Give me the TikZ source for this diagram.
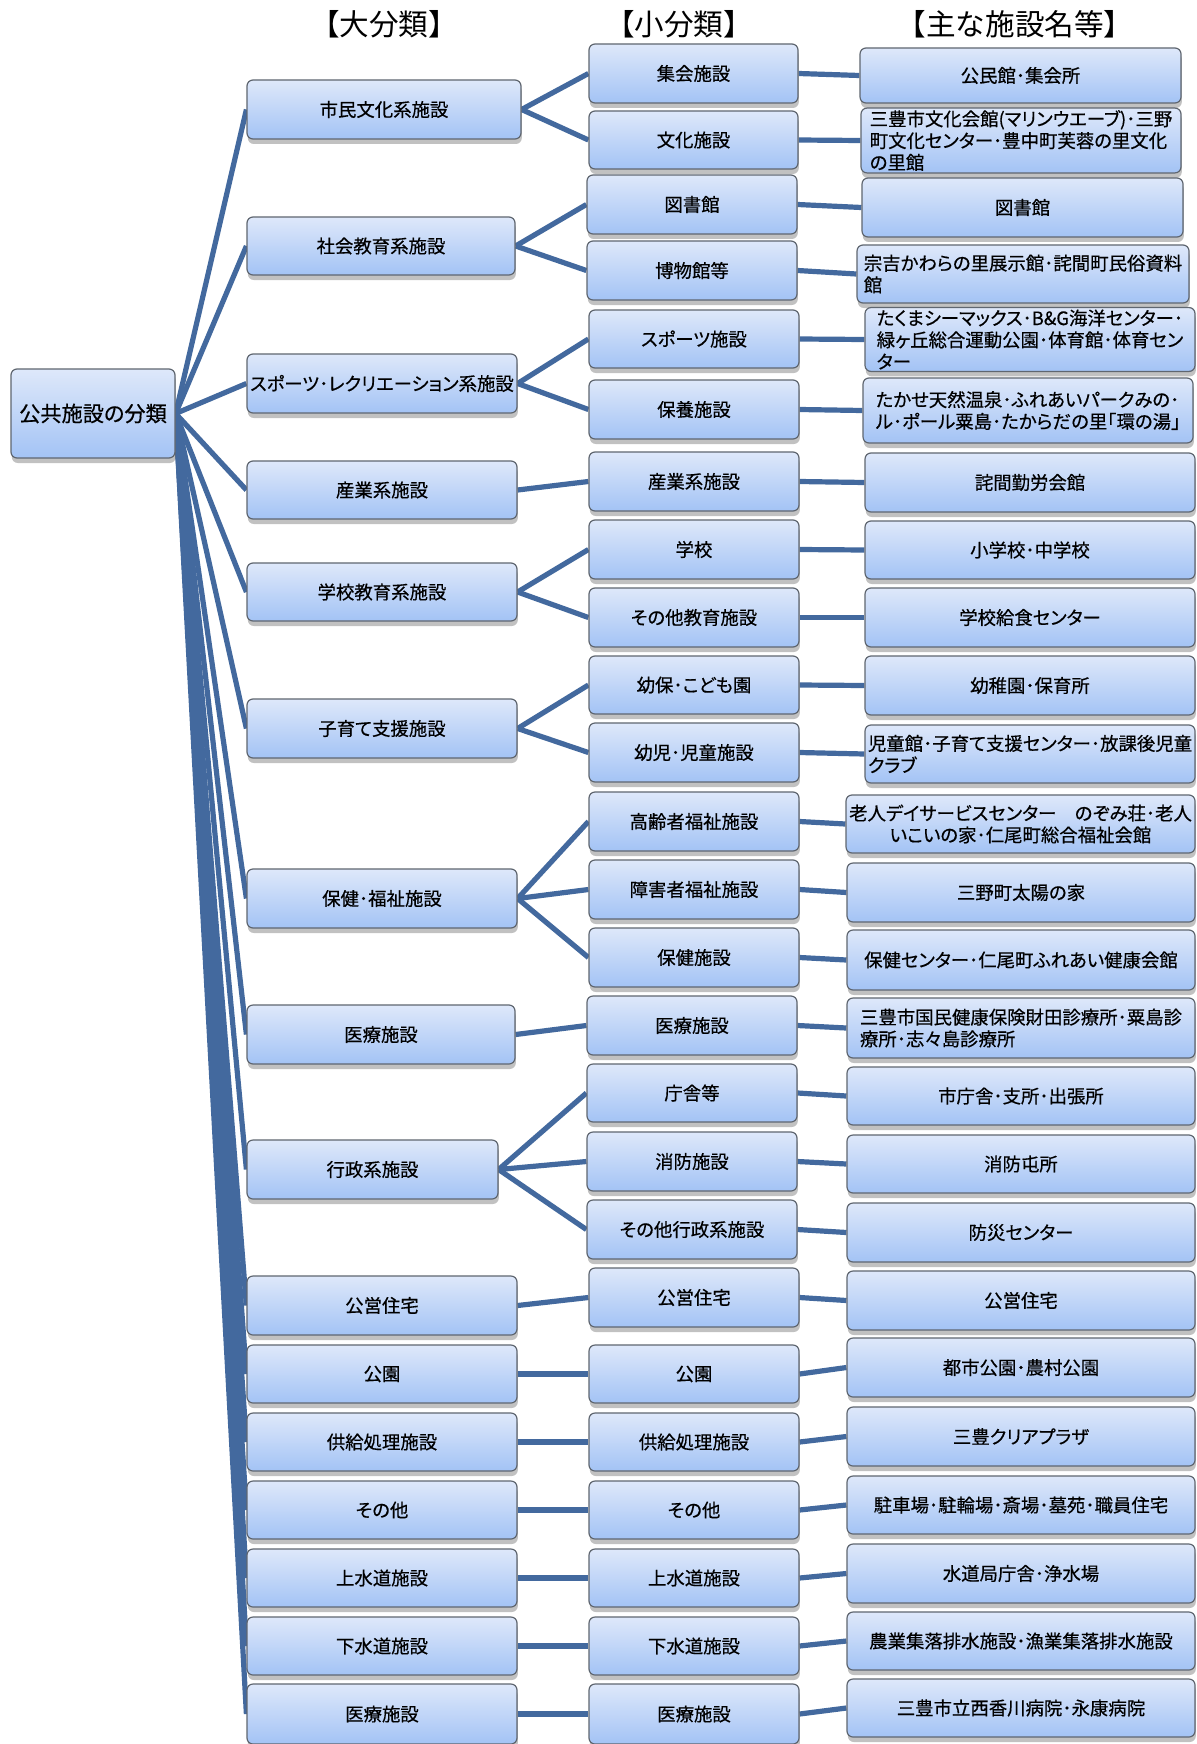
\documentclass[tikz,border=0pt]{standalone}
\usepackage{fontspec}
\usetikzlibrary{shadows,backgrounds}
\newfontfamily\jpfont[RawFeature=+palt,FakeBold=0.5]{Noto Sans CJK JP}
\newfontfamily\jpttl{Noto Sans CJK JP}
\definecolor{boxtop}{HTML}{DEE8FA}
\definecolor{boxbot}{HTML}{A3C3F5}
\definecolor{boxborder}{HTML}{5F6670}
\definecolor{linecol}{HTML}{43699E}
\newcommand{\bx}[7][]{%
 \pgfmathsetmacro\bxcx{(#3+#5)/2}%
 \pgfmathsetmacro\bxcy{(#4+#6)/2}%
 \pgfmathsetmacro\bxw{(#5-#3)*0.5}%
 \pgfmathsetmacro\bxh{(#6-#4)*0.5}%
 \node[box,minimum width=\bxw pt,minimum height=\bxh pt,#1] (#2) at (\bxcx,\bxcy) {#7};}
\tikzset{
 box/.style={draw=boxborder, line width=0.6pt, rounded corners=3pt,
   top color=boxtop, bottom color=boxbot, inner sep=1pt, align=center,
   text=black, font=\jpfont\fontsize{9.2}{10.9}\selectfont,
   drop shadow={shadow xshift=0.4pt, shadow yshift=-2.5pt, opacity=0.4, fill=black!60}},
 rootbox/.style={font=\jpfont\fontsize{10.6}{12}\selectfont},
 conn/.style={draw=linecol, line width=2.6pt},
 ttl/.style={font=\jpttl\fontsize{14.8}{16}\selectfont, text=black}
}
\begin{document}
\begin{tikzpicture}[x=0.5pt,y=-0.5pt]
\clip (0,0) rectangle (1196,1744);
% titles
\node[ttl] (t1) at (384,24) {【大分類】};
\node[ttl] (t2) at (679,24) {【小分類】};
\node[ttl] (t3) at (1015,24) {【主な施設名等】};
% root
\bx[rootbox]{root}{11}{369}{175}{458}{公共施設の分類}
% level 1
\bx{p1}{247}{80}{521}{139}{市民文化系施設}
\bx{p2}{247}{217}{515}{275}{社会教育系施設}
\bx{p3}{247}{354}{517}{413}{スポーツ･レクリエーション系施設}
\bx{p4}{247}{461}{517}{519}{産業系施設}
\bx{p5}{247}{563}{517}{621}{学校教育系施設}
\bx{p6}{247}{699}{517}{758}{子育て支援施設}
\bx{p7}{247}{869}{517}{928}{保健･福祉施設}
\bx{p8}{247}{1005}{515}{1064}{医療施設}
\bx{p9}{247}{1140}{498}{1199}{行政系施設}
\bx{p10}{247}{1276}{517}{1335}{公営住宅}
\bx{p11}{247}{1345}{517}{1403}{公園}
\bx{p12}{247}{1413}{517}{1471}{供給処理施設}
\bx{p13}{247}{1481}{517}{1539}{その他}
\bx{p14}{247}{1549}{517}{1607}{上水道施設}
\bx{p15}{247}{1617}{517}{1675}{下水道施設}
\bx{p16}{247}{1684}{517}{1744}{医療施設}
% level 2
\bx{s1}{589}{44}{798}{103}{集会施設}
\bx{s2}{589}{111}{798}{169}{文化施設}
\bx{s3}{587}{175}{797}{234}{図書館}
\bx{s4}{587}{241}{797}{300}{博物館等}
\bx{s5}{589}{310}{799}{368}{スポーツ施設}
\bx{s6}{589}{380}{799}{439}{保養施設}
\bx{s7}{589}{452}{799}{511}{産業系施設}
\bx{s8}{589}{520}{799}{579}{学校}
\bx{s9}{589}{588}{799}{647}{その他教育施設}
\bx{s10}{589}{656}{799}{714}{幼保･こども園}
\bx{s11}{589}{723}{799}{782}{幼児･児童施設}
\bx{s12}{589}{792}{799}{851}{高齢者福祉施設}
\bx{s13}{589}{860}{799}{919}{障害者福祉施設}
\bx{s14}{589}{928}{799}{987}{保健施設}
\bx{s15}{587}{996}{797}{1055}{医療施設}
\bx{s16}{587}{1064}{797}{1122}{庁舎等}
\bx{s17}{587}{1132}{797}{1191}{消防施設}
\bx{s18}{587}{1200}{797}{1259}{その他行政系施設}
\bx{s19}{589}{1268}{799}{1327}{公営住宅}
\bx{s20}{589}{1345}{799}{1403}{公園}
\bx{s21}{589}{1413}{799}{1471}{供給処理施設}
\bx{s22}{589}{1481}{799}{1539}{その他}
\bx{s23}{589}{1549}{799}{1607}{上水道施設}
\bx{s24}{589}{1617}{799}{1675}{下水道施設}
\bx{s25}{589}{1684}{799}{1744}{医療施設}
% level 3
\bx{m1}{860}{48}{1181}{103}{公民館･集会所}
\bx[align=left]{m2}{861}{110}{1181}{171}{三豊市文化会館(マリンウエーブ)･三野\\町文化センター･豊中町芙蓉の里文化\\の里館}
\bx{m3}{862}{178}{1183}{237}{図書館}
\bx[align=left]{m4}{857}{245}{1189}{303}{宗吉かわらの里展示館･詫間町民俗資料\\館}
\bx[align=left]{m5}{865}{310}{1195}{369}{たくまシーマックス･B\&G海洋センター･\\緑ヶ丘総合運動公園･体育館･体育セン\\ター}
\bx[align=left]{m6}{863}{378}{1193}{443}{たかせ天然温泉･ふれあいパークみの･\\ル･ポール粟島･たからだの里｢環の湯｣}
\bx{m7}{865}{453}{1195}{512}{詫間勤労会館}
\bx{m8}{865}{521}{1195}{579}{小学校･中学校}
\bx{m9}{865}{588}{1195}{647}{学校給食センター}
\bx{m10}{865}{656}{1195}{715}{幼稚園･保育所}
\bx[align=left]{m11}{865}{725}{1195}{783}{児童館･子育て支援センター･放課後児童\\クラブ}
\bx{m12}{846}{795}{1195}{853}{老人デイサービスセンター　のぞみ荘･老人\\いこいの家･仁尾町総合福祉会館}
\bx{m13}{847}{863}{1195}{922}{三野町太陽の家}
\bx{m14}{847}{930}{1195}{990}{保健センター･仁尾町ふれあい健康会館}
\bx[align=left]{m15}{847}{998}{1195}{1058}{三豊市国民健康保険財田診療所･粟島診\\療所･志々島診療所}
\bx{m16}{847}{1067}{1195}{1125}{市庁舎･支所･出張所}
\bx{m17}{847}{1135}{1195}{1193}{消防屯所}
\bx{m18}{847}{1203}{1195}{1262}{防災センター}
\bx{m19}{847}{1271}{1195}{1330}{公営住宅}
\bx{m20}{847}{1338}{1195}{1397}{都市公園･農村公園}
\bx{m21}{847}{1407}{1195}{1466}{三豊クリアプラザ}
\bx{m22}{847}{1476}{1195}{1534}{駐車場･駐輪場･斎場･墓苑･職員住宅}
\bx{m23}{847}{1544}{1195}{1603}{水道局庁舎･浄水場}
\bx{m24}{847}{1612}{1195}{1670}{農業集落排水施設･漁業集落排水施設}
\bx{m25}{847}{1679}{1195}{1737}{三豊市立西香川病院･永康病院}
% connectors
\begin{scope}[on background layer]
\fill[white] (0,0) rectangle (1196,1744);
\foreach \i in {1,...,16} \draw[conn] (root.east) -- (p\i.west);
\foreach \a/\b in {p1/s1,p1/s2,p2/s3,p2/s4,p3/s5,p3/s6,p4/s7,p5/s8,p5/s9,p6/s10,p6/s11,p7/s12,p7/s13,p7/s14,p8/s15,p9/s16,p9/s17,p9/s18,p10/s19,p11/s20,p12/s21,p13/s22,p14/s23,p15/s24,p16/s25}
  \draw[conn] (\a.east) -- (\b.west);
\foreach \i in {1,...,25} \draw[conn] (s\i.east) -- (m\i.west);
\end{scope}
\end{tikzpicture}
\end{document}
